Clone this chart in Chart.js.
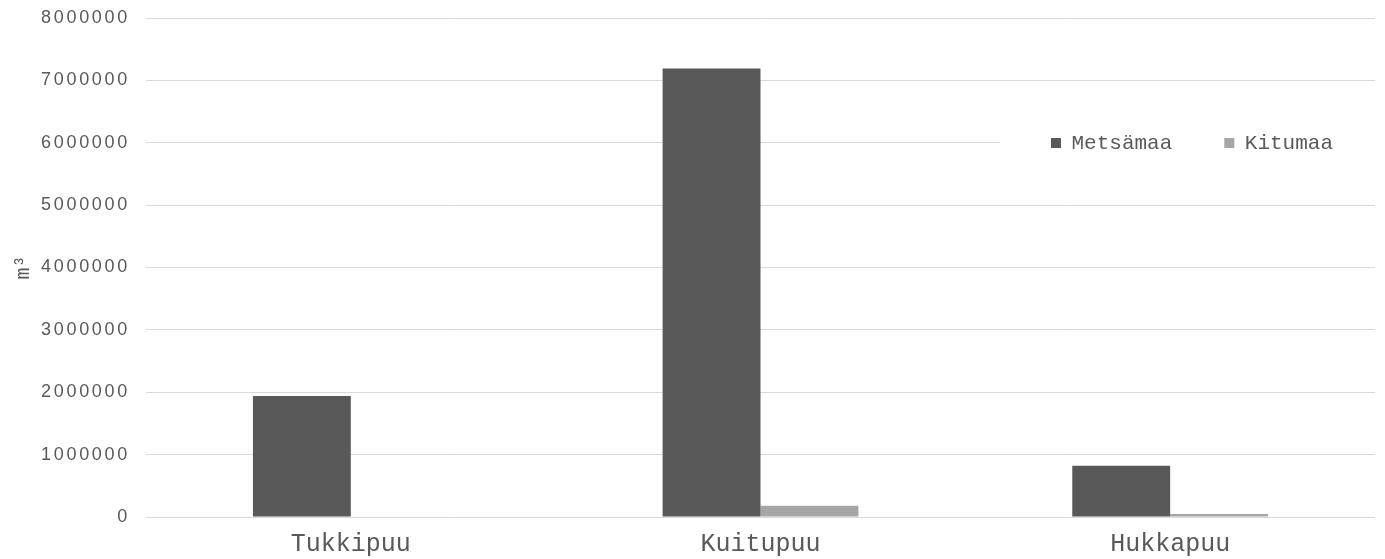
<!DOCTYPE html>
<html>
<head>
<meta charset="utf-8">
<style>
  html, body { margin: 0; padding: 0; background: #ffffff; }
  #wrap { width: 1385px; height: 559px; position: relative; }
</style>
<script src="https://cdn.jsdelivr.net/npm/chart.js@4/dist/chart.umd.min.js"></script>
</head>
<body>
<div id="wrap"><canvas id="chart" width="1385" height="559"></canvas></div>
<script>
// Hakkuukertymä puutavaralajeittain (m³)
const categories = ['Tukkipuu', 'Kuitupuu', 'Hukkapuu'];
const metsamaa = [1940000, 7190000, 822000];
const kitumaa = [0, 180000, 48000];
const seriesNames = ['Metsämaa', 'Kitumaa'];
const yTicks = [0, 1000000, 2000000, 3000000, 4000000, 5000000, 6000000, 7000000, 8000000];

const MONO = '"Liberation Mono", "Courier New", monospace';
const SANS = '"Liberation Sans", Arial, sans-serif';
const TEXT = '#595959';

// Linear scale whose tick labels are drawn with extra letter spacing
class SpacedLinearScale extends Chart.LinearScale {
  drawLabels(chartArea) {
    const ctx = this.ctx;
    ctx.save();
    ctx.letterSpacing = '2.7px';
    super.drawLabels(chartArea);
    ctx.restore();
  }
}
SpacedLinearScale.id = 'spacedLinear';
SpacedLinearScale.defaults = Chart.LinearScale.defaults;
Chart.register(SpacedLinearScale);

// The legend row is moved inside the plot, on a white patch over the gridline
const legendPlacement = {
  id: 'legendPlacement',
  afterLayout(chart) {
    const lg = chart.legend;
    if (!lg) return;
    lg.left = chart.chartArea.left;
    lg.right = 1385;
    lg.top = 80.5;
    lg.bottom = 200;
    lg.width = lg.right - lg.left;
    lg.height = lg.bottom - lg.top;
  },
  beforeDatasetsDraw(chart) {
    const lg = chart.legend;
    if (!lg) return;
    const ctx = chart.ctx;
    ctx.save();
    ctx.fillStyle = '#ffffff';
    ctx.fillRect(1000, 125, chart.chartArea.right - 1000 + 2, 36);
    ctx.restore();
    lg.draw();
  }
};

new Chart(document.getElementById('chart'), {
  type: 'bar',
  data: {
    labels: categories,
    datasets: [
      { label: seriesNames[0], data: metsamaa, backgroundColor: '#595959' },
      { label: seriesNames[1], data: kitumaa, backgroundColor: '#a6a6a6' }
    ]
  },
  options: {
    responsive: false,
    animation: false,
    devicePixelRatio: 1,
    layout: { padding: { top: 18, right: 10, bottom: 0, left: 0 } },
    datasets: { bar: { categoryPercentage: 0.478, barPercentage: 1.0 } },
    plugins: {
      tooltip: { enabled: false },
      legend: {
        position: 'top',
        align: 'end',
        maxHeight: 0.001,
        labels: {
          boxWidth: 10,
          boxHeight: 10,
          padding: 52,
          color: TEXT,
          font: { family: MONO, size: 21 }
        }
      }
    },
    scales: {
      x: {
        grid: { display: false, drawTicks: false },
        border: { display: false },
        ticks: { color: TEXT, font: { family: MONO, size: 25 }, padding: 12, maxRotation: 0 },
        afterFit(scale) { scale.height = 42; }
      },
      y: {
        type: 'spacedLinear',
        min: 0,
        max: 8000000,
        afterBuildTicks(scale) { scale.ticks = yTicks.map(v => ({ value: v })); },
        grid: { color: '#d9d9d9', lineWidth: 1, drawTicks: false },
        border: { display: false },
        ticks: {
          color: TEXT,
          font: { family: SANS, size: 18 },
          padding: 16,
          callback: v => String(v)
        },
        title: {
          display: true,
          text: 'm³',
          color: TEXT,
          font: { family: MONO, size: 20 },
          padding: { top: 12, bottom: 0 }
        },
        afterFit(scale) {
          scale.width = 146;
          scale.paddingTop = 0;
          scale.paddingBottom = 0;
        }
      }
    }
  },
  plugins: [legendPlacement]
});
</script>
</body>
</html>
